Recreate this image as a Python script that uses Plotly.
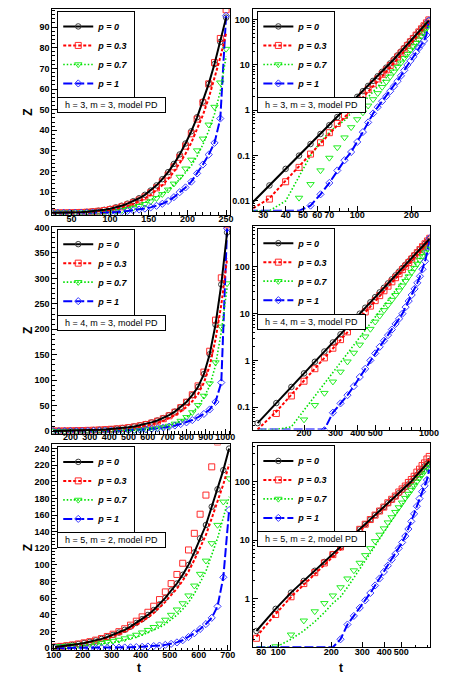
import numpy as np
import plotly.graph_objects as go

W, H = 451, 678
FONT = "Liberation Sans"

# ---------------- text ----------------
series_names = ["p = 0", "p = 0.3", "p = 0.7", "p = 1"]
panel_notes = ["h = 3, m = 3, model PD", "h = 4, m = 3, model PD", "h = 5, m = 2, model PD"]

# ---------------- row 1 : h = 3, m = 3 (linear and log panels) ----------------
t_r1 = [25, 32.5, 40, 47.5, 55, 62.5, 70, 77.5, 85, 92.5, 100, 107.5, 115, 122.5, 130, 137.5,
        145, 152.5, 160, 167.5, 175, 182.5, 190, 197.5, 205, 212.5, 220, 227.5, 235, 242.5, 250]
z_p0_r1 = [0.0077, 0.022, 0.051, 0.10, 0.18, 0.30, 0.47, 0.71, 1.03, 1.45, 1.98, 2.64, 3.45, 4.45, 5.64, 7.06,
           8.73, 10.8, 13.3, 16.3, 19.7, 23.7, 28.3, 33.6, 39.5, 46.3, 53.9, 62.5, 72.1, 82.8, 94.6]
z_p03_model_r1 = [0.0039, 0.0114, 0.028, 0.057, 0.108, 0.186, 0.30, 0.47, 0.70, 1.01, 1.43, 1.93, 2.59, 3.38, 4.34, 5.51,
                  6.90, 8.64, 10.8, 13.4, 16.4, 19.9, 24.1, 28.6, 34.0, 40.3, 47.4, 55.6, 64.9, 75.3, 87.0]
z_p03_sim_r1 = [0.0035, 0.011, 0.0265, 0.055, 0.108, 0.192, 0.32, 0.51, 0.77, 1.13, 1.58, 2.16, 2.90, 3.83, 4.91, 6.21,
                7.77, 9.72, 12.1, 15.0, 18.3, 22.3, 26.9, 32.3, 38.3, 45.4, 53.4, 62.5, 72.8, 84.5, 98.4]
z_p07_model_r1 = [0.0005, 0.002, 0.010, 0.034, 0.10, 0.20, 0.33, 0.46, 0.60, 0.87, 1.15, 1.51, 1.95, 2.57, 3.31, 4.17,
                  5.13, 6.31, 7.76, 9.33, 11.2, 13.5, 16.2, 19.5, 22.9, 27.5, 33.1, 39.8, 47.9, 58.9, 75.9]
z_p07_sim_r1 = [0.0008, 0.002, 0.005, 0.0117, 0.0234, 0.047, 0.089, 0.151, 0.25, 0.42, 0.63, 0.89, 1.26, 1.74, 2.37, 3.24,
                4.22, 5.50, 7.08, 9.02, 11.2, 14.1, 17.4, 21.4, 25.7, 30.2, 35.9, 42.7, 51.3, 63.1, 79.4]
z_p1_r1 = [0.0001, 0.0001, 0.0003, 0.002, 0.0079, 0.014, 0.025, 0.047, 0.079, 0.12, 0.20, 0.33, 0.54, 0.85, 1.17, 1.58,
           2.04, 2.63, 3.39, 4.37, 5.75, 7.59, 10.0, 12.3, 15.1, 19.1, 23.4, 28.2, 33.9, 45.7, 95.5]

# ---------------- row 2 : h = 4, m = 3 ----------------
t_r2 = [110, 140, 170, 200, 230, 260, 290, 320, 350, 380, 410, 440, 470, 500, 530, 560,
        590, 620, 650, 680, 710, 740, 770, 800, 830, 860, 890, 920, 950, 980, 1010]
# linear panel
z_p0_r2lin = [0.58, 0.70, 0.86, 1.05, 1.28, 1.56, 1.91, 2.33, 2.85, 3.48, 4.26, 5.20, 6.35, 7.76, 9.48, 11.6,
              14.2, 17.3, 21.1, 25.8, 31.6, 38.5, 47.1, 57.5, 70.8, 87.1, 112, 151, 209, 288, 390]
z_p03_model_r2lin = [0.44, 0.53, 0.65, 0.79, 0.96, 1.17, 1.43, 1.75, 2.14, 2.61, 3.20, 3.90, 4.76, 5.82, 7.20, 8.93,
                     11.1, 13.7, 16.7, 20.6, 25.6, 31.2, 38.6, 47.7, 58.8, 73.2, 95.2, 128, 180, 248, 339]
z_p03_sim_r2lin = [0.52, 0.63, 0.77, 0.95, 1.15, 1.40, 1.72, 2.10, 2.57, 3.13, 3.83, 4.68, 5.72, 7.0, 8.6, 10.6,
                   13.1, 16.1, 19.8, 24.5, 30.3, 37.3, 46.2, 57.0, 71.5, 89.0, 116, 157, 218, 301, 405]
z_p07_model_r2lin = [0.033, 0.045, 0.059, 0.079, 0.11, 0.14, 0.19, 0.25, 0.34, 0.46, 0.60, 0.81, 1.07, 1.45, 1.95, 2.57,
                     3.47, 4.57, 6.17, 8.32, 11.0, 15.1, 20.4, 27.5, 36.3, 49.0, 66.1, 89.1, 129, 195, 282]
z_p07_sim_r2lin = [0.028, 0.038, 0.050, 0.067, 0.094, 0.12, 0.16, 0.21, 0.29, 0.39, 0.51, 0.69, 0.91, 1.23, 1.70, 2.26,
                   3.12, 4.16, 5.68, 7.82, 10.5, 14.6, 20.2, 27.5, 37.0, 51.0, 69.4, 93.6, 135, 205, 290]
z_p1_r2lin = [0.074, 0.093, 0.12, 0.15, 0.19, 0.25, 0.32, 0.40, 0.51, 0.65, 0.83, 1.05, 1.35, 1.70, 2.19, 2.75,
              3.55, 4.47, 5.75, 7.24, 8.91, 11.2, 14.1, 17.4, 21.9, 27.5, 33.9, 42.7, 57.5, 95.5, 398]
# log panel
z_p0_r2log = [0.0454, 0.122, 0.270, 0.527, 0.934, 1.55, 2.42, 3.61, 5.22, 7.32, 10.0, 13.4, 17.5, 22.6, 28.6, 35.9,
              44.5, 54.5, 66.1, 79.6, 95.1, 112, 132, 155, 180, 208, 240, 275, 313, 356, 403]
z_p03_model_r2log = [0.0295, 0.0805, 0.184, 0.369, 0.663, 1.12, 1.78, 2.69, 3.94, 5.64, 7.8, 10.5, 13.8, 18.1, 23.0, 29.1,
                     36.3, 44.7, 54.9, 66.9, 80.8, 96.3, 115, 136, 159, 185, 216, 249, 285, 326, 371]
z_p03_sim_r2log = [0.025, 0.073, 0.173, 0.358, 0.663, 1.13, 1.82, 2.78, 4.07, 5.78, 8.0, 10.9, 14.5, 19.0, 24.3, 30.9,
                   38.7, 48.0, 58.8, 71.6, 87.5, 104, 124, 147, 173, 202, 235, 272, 313, 360, 411]
z_p07_model_r2log = [0.0044, 0.0145, 0.038, 0.086, 0.174, 0.321, 0.553, 0.905, 1.42, 2.14, 3.13, 4.45, 6.19, 8.43, 11.3, 14.9,
                     19.3, 24.7, 31.3, 39.2, 48.7, 59.8, 73.1, 88.4, 106, 127, 151, 178, 209, 244, 284]
z_p07_sim_r2log = [0.003, 0.009, 0.024, 0.054, 0.11, 0.20, 0.35, 0.57, 0.94, 1.45, 2.16, 3.23, 4.70, 6.70, 8.97, 11.8,
                   15.3, 19.6, 24.9, 31.2, 39.6, 49.8, 62.2, 77.1, 94.8, 116, 141, 170, 204, 244, 284]
z_p1_r2log = [0.0001, 0.0001, 0.0001, 0.0001, 0.0001, 0.032, 0.076, 0.12, 0.18, 0.28, 0.44, 0.66, 1.0, 1.41, 1.95, 2.63,
              3.47, 4.57, 6.03, 7.76, 10.0, 13.8, 18.6, 25.1, 33.9, 45.7, 63.1, 89.1, 132, 214, 417]

# ---------------- row 3 : h = 5, m = 2 ----------------
t_r3lin = [105, 125, 145, 165, 185, 205, 225, 245, 265, 285, 305, 325, 345, 365, 385, 405,
           425, 445, 465, 485, 505, 525, 545, 565, 585, 605, 625, 645, 665, 685, 705]
z_p0_r3lin = [1.26, 1.95, 2.75, 3.72, 4.79, 6.03, 7.41, 9.12, 11.0, 13.2, 15.8, 18.6, 21.9, 25.7, 30.2, 34.7,
              39.8, 45.7, 52.5, 60.3, 69.2, 77.6, 88.1, 100, 115, 132, 148, 170, 191, 214, 240]
z_p03_model_r3lin = [1.16, 1.79, 2.53, 3.42, 4.41, 5.55, 6.82, 8.39, 10.1, 12.1, 14.5, 17.1, 20.1, 23.6, 27.8, 31.9,
                     36.6, 42.0, 48.3, 55.5, 63.7, 71.4, 81.1, 92.0, 106, 121, 136, 156, 176, 197, 221]
z_p03_sim_r3lin = [1.26, 1.95, 2.78, 3.76, 4.89, 6.21, 7.63, 9.48, 11.4, 13.9, 16.6, 19.7, 23.2, 27.5, 32.3, 37.5,
                   43.0, 50.3, 58.3, 67.5, 77.5, 88.5, 102, 118, 138, 161, 184, 218, 248, 282, 322]
z_p07_model_r3lin = [1.49, 1.75, 2.01, 2.36, 2.71, 3.18, 3.66, 4.30, 4.94, 5.79, 6.81, 7.95, 9.43, 11.1, 13.1, 15.6,
                     18.4, 21.3, 24.8, 28.8, 34.2, 39.7, 46.7, 54.9, 65.3, 78.4, 92.4, 112, 132, 157, 182]
z_p07_sim_r3lin = [1.86, 2.19, 2.51, 2.95, 3.39, 3.98, 4.57, 5.37, 6.17, 7.24, 8.51, 9.77, 11.5, 13.5, 15.8, 18.6,
                   21.6, 25.1, 29.2, 33.9, 39.8, 46.2, 53.7, 63.1, 75.0, 89.1, 105, 126, 148, 176, 204]
z_p1_r3lin = [0.03, 0.04, 0.05, 0.063, 0.079, 0.1, 0.126, 0.158, 0.21, 0.28, 0.38, 0.5, 0.66, 0.85, 1.10, 1.41,
              1.82, 2.34, 2.95, 3.80, 5.01, 6.76, 9.33, 13.2, 17.8, 22.9, 28.8, 36.3, 50.1, 85.1, 166]

t_r3log = [75, 96.5, 118, 139.5, 161, 182.5, 204, 225.5, 247, 268.5, 290, 311.5, 333, 354.5, 376, 397.5,
           419, 440.5, 462, 483.5, 505, 526.5, 548, 569.5, 591, 612.5, 634, 655.5, 677, 698.5, 720]
z_p0_r3log = [0.277, 0.664, 1.26, 2.00, 2.98, 4.23, 5.76, 7.62, 9.81, 12.4, 15.3, 18.7, 22.5, 26.8, 31.5, 36.8,
              42.7, 49.0, 55.8, 63.5, 71.6, 80.4, 89.9, 101, 115, 130, 146, 164, 183, 204, 226]
z_p03_model_r3log = [0.222, 0.544, 1.06, 1.72, 2.62, 3.81, 5.24, 7.01, 9.12, 11.7, 14.5, 17.8, 21.6, 25.7, 30.6, 35.7,
                     41.8, 48.0, 55.2, 62.9, 71.6, 80.4, 90.8, 102, 117, 133, 150, 169, 190, 212, 237]
z_p03_sim_r3log = [0.208, 0.531, 1.07, 1.80, 2.77, 4.06, 5.64, 7.62, 9.81, 12.4, 15.3, 18.7, 22.5, 26.8, 31.5, 36.8,
                   43.6, 50.0, 56.9, 66.7, 75.2, 84.4, 97.1, 109, 124, 146, 164, 189, 210, 245, 271]
z_p07_model_r3log = [0.032, 0.138, 0.2, 0.28, 0.40, 0.575, 0.83, 1.07, 1.55, 2.24, 3.16, 4.37, 5.89, 7.94, 10.5, 13.5,
                     17.4, 21.9, 27.5, 33.9, 41.7, 50.1, 60.3, 71.6, 85.1, 100, 115, 132, 151, 172, 193]
z_p07_sim_r3log = [0.08, 0.151, 0.24, 0.417, 0.60, 0.83, 1.12, 1.55, 2.19, 3.02, 4.07, 5.5, 7.24, 9.55, 12.3, 15.8,
                   20.0, 24.5, 30.2, 36.3, 43.7, 52.5, 61.7, 72.4, 85.1, 100, 115, 132, 151, 174, 195]
z_p1_r3log = [0.001, 0.001, 0.001, 0.001, 0.001, 0.001, 0.001, 0.20, 0.358, 0.503, 0.69, 0.93, 1.24, 1.67, 2.20, 2.85,
              3.65, 4.62, 5.78, 7.24, 9.12, 11.7, 15.5, 20.9, 28.2, 38.0, 51.3, 67.6, 85.1, 107, 162]

# ---------------- tick values ----------------
logx_ticks_r1 = [30, 40, 50, 60, 70, 100, 200]
logx_minor_r1 = [80, 90]
logx_ticks_r2 = [200, 300, 400, 500, 1000]
logx_minor_r2 = [600, 700, 800, 900]
logx_ticks_r3 = [80, 100, 200, 300, 400, 500]
logx_minor_r3 = [90, 600, 700]
logy_ticks_r1 = [0.01, 0.1, 1, 10, 100]
logy_ticks_r2 = [0.1, 1, 10, 100]
logy_ticks_r3 = [1, 10, 100]

# ---------------- panels ----------------
panels = [
    dict(t=t_r1, model=[z_p0_r1, z_p03_model_r1, z_p07_model_r1, z_p1_r1],
         sim=[z_p0_r1, z_p03_sim_r1, z_p07_sim_r1, z_p1_r1], log=False,
         box=(48, 232, 5, 213), xr=[25.4, 255.4], yr=[-0.96, 98.8],
         xd=(50, 10), yd=(10, 2), note=panel_notes[0], so=-5),
    dict(t=t_r1, model=[z_p0_r1, z_p03_model_r1, z_p07_model_r1, z_p1_r1],
         sim=[z_p0_r1, z_p03_sim_r1, z_p07_sim_r1, z_p1_r1], log=True,
         box=(255, 438.5, 5, 209), xr=[1.418, 2.404], yr=[-2.218, 2.234],
         xt=(logx_ticks_r1, logx_minor_r1), yt=logy_ticks_r1, note=panel_notes[0], so=-5),
    dict(t=t_r2, model=[z_p0_r2lin, z_p03_model_r2lin, z_p07_model_r2lin, z_p1_r2lin],
         sim=[z_p0_r2lin, z_p03_sim_r2lin, z_p07_sim_r2lin, z_p1_r2lin], log=False,
         box=(48, 232, 225, 434), xr=[106.5, 1026.5], yr=[-4.5, 401.4],
         xd=(100, 20), yd=(50, 10), note=panel_notes[1], so=-5),
    dict(t=t_r2, model=[z_p0_r2log, z_p03_model_r2log, z_p07_model_r2log, z_p1_r2log],
         sim=[z_p0_r2log, z_p03_sim_r2log, z_p07_sim_r2log, z_p1_r2log], log=True,
         box=(255, 438.3, 224, 430), xr=[2.013, 3.004], yr=[-1.481, 2.883],
         xt=(logx_ticks_r2, logx_minor_r2), yt=logy_ticks_r2, note=panel_notes[1], so=-5),
    dict(t=t_r3lin, model=[z_p0_r3lin, z_p03_model_r3lin, z_p07_model_r3lin, z_p1_r3lin],
         sim=[z_p0_r3lin, z_p03_sim_r3lin, z_p07_sim_r3lin, z_p1_r3lin], log=False,
         box=(48, 232, 445, 653), xr=[95.7, 709], yr=[-2.7, 245],
         xd=(100, 20), yd=(20, 4), note=panel_notes[2], so=-4),
    dict(t=t_r3log, model=[z_p0_r3log, z_p03_model_r3log, z_p07_model_r3log, z_p1_r3log],
         sim=[z_p0_r3log, z_p03_sim_r3log, z_p07_sim_r3log, z_p1_r3log], log=True,
         box=(255, 439, 444, 650), xr=[1.853, 2.864], yr=[-0.836, 2.656],
         xt=(logx_ticks_r3, logx_minor_r3), yt=logy_ticks_r3, note=panel_notes[2], so=-4),
]

line_colors = ["#000000", "#ff0000", "#00e000", "#0000ff"]
marker_colors = ["#3a3a3a", "#ff2a2a", "#22ee22", "#3a3aff"]
symbols = ["circle-open", "square-open", "triangle-down-open", "diamond-open"]
msizes = [5.5, 6, 6.5, 5.5]
dashes = ["solid", "3px,2px", "1.5px,2px", "9px,3px"]
lwidths = [2, 2, 1.6, 2]


def fmt(v):
    return ("%g" % v)


fig = go.Figure()
layout = dict(width=W, height=H, margin=dict(l=0, r=0, t=0, b=0),
              paper_bgcolor="white", plot_bgcolor="white", showlegend=True,
              annotations=[])

for i, p in enumerate(panels):
    sfx = "" if i == 0 else str(i + 1)
    xa, ya = "x" + sfx, "y" + sfx
    leg = "legend" + sfx
    l, r, tp, bt = p["box"]
    ymin = 10 ** p["yr"][0] if p["log"] else None

    # simulation markers
    for k in range(4):
        fig.add_trace(go.Scatter(
            x=p["t"], y=p["sim"][k], mode="markers", xaxis=xa, yaxis=ya, showlegend=False,
            marker=dict(symbol=symbols[k], size=msizes[k], color=marker_colors[k],
                        line=dict(width=1, color=marker_colors[k])), hoverinfo="skip"))
    # model lines (ROOT draws values below a log frame along its bottom edge)
    for k in [3, 2, 1, 0]:
        yv = np.array(p["model"][k], dtype=float)
        if p["log"]:
            yv = np.maximum(yv, ymin)
        fig.add_trace(go.Scatter(
            x=p["t"], y=yv, mode="lines", xaxis=xa, yaxis=ya, showlegend=False,
            line=dict(color=line_colors[k], width=lwidths[k], dash=dashes[k]), hoverinfo="skip"))
    # legend entries
    for k in range(4):
        fig.add_trace(go.Scatter(
            x=[None], y=[None], mode="lines+markers", name=series_names[k], xaxis=xa, yaxis=ya,
            legend=leg,
            line=dict(color=line_colors[k], width=lwidths[k], dash=dashes[k]),
            marker=dict(symbol=symbols[k], size=msizes[k], color=marker_colors[k],
                        line=dict(width=1, color=marker_colors[k]))))

    common = dict(showline=True, mirror=True, linecolor="black", linewidth=1,
                  ticks="inside", ticklen=5, tickwidth=1, tickcolor="black",
                  showgrid=False, zeroline=False, tickangle=0,
                  tickfont=dict(family=FONT, size=9, color="black", weight="bold"))
    xdom = [l / W, r / W]
    ydom = [1 - bt / H, 1 - tp / H]
    if p["log"]:
        xt, xm = p["xt"]
        xaxis = dict(type="log", domain=xdom, range=p["xr"], anchor=ya,
                     tickmode="array", tickvals=xt, ticktext=[fmt(v) for v in xt],
                     ticklabelstandoff=p["so"],
                     minor=dict(ticks="inside", ticklen=2.5, tickcolor="black",
                                tickmode="array", tickvals=xm), **common)
        yt = p["yt"]
        ym = []
        for d in yt + [yt[0] / 10]:
            for m in range(2, 10):
                ym.append(d * m)
        yaxis = dict(type="log", domain=ydom, range=p["yr"], anchor=xa,
                     tickmode="array", tickvals=yt, ticktext=[fmt(v) for v in yt],
                     minor=dict(ticks="inside", ticklen=2.5, tickcolor="black",
                                tickmode="array", tickvals=ym), **common)
    else:
        xd, xmd = p["xd"]
        yd, ymd = p["yd"]
        xaxis = dict(domain=xdom, range=p["xr"], anchor=ya, tickmode="linear", tick0=0, dtick=xd,
                     ticklabelstandoff=p["so"],
                     minor=dict(ticks="inside", ticklen=2.5, tickcolor="black", tick0=0, dtick=xmd),
                     **common)
        yaxis = dict(domain=ydom, range=p["yr"], anchor=xa, tickmode="linear", tick0=0, dtick=yd,
                     minor=dict(ticks="inside", ticklen=2.5, tickcolor="black", tick0=0, dtick=ymd),
                     **common)
    layout["xaxis" + sfx] = xaxis
    layout["yaxis" + sfx] = yaxis

    layout[leg] = dict(x=(l + 5) / W, y=1 - (tp + 2) / H, xanchor="left", yanchor="top",
                       bgcolor="white", bordercolor="black", borderwidth=1,
                       font=dict(family=FONT, size=9, color="black", weight="bold", style="italic"),
                       itemwidth=30, tracegroupgap=0)

    layout["annotations"].append(dict(
        text=p["note"], xref="paper", yref="paper", x=(l + 5) / W, y=1 - (tp + 89) / H,
        xanchor="left", yanchor="top", showarrow=False, bgcolor="white",
        bordercolor="black", borderwidth=1, borderpad=2, width=103, align="center",
        font=dict(family=FONT, size=9, color="black")))

# axis titles
for yc in [(5 + 213) / 2, (225 + 434) / 2, (445 + 653) / 2]:
    layout["annotations"].append(dict(
        text="Z", xref="paper", yref="paper", x=22.7 / W, y=1 - yc / H, showarrow=False,
        xanchor="center", yanchor="middle",
        textangle=-90, font=dict(family=FONT, size=12, color="black", weight="bold")))
for xc in [138, 346.7]:
    layout["annotations"].append(dict(
        text="t", xref="paper", yref="paper", x=xc / W, y=1 - 671 / H, showarrow=False,
        xanchor="center", yanchor="middle", borderpad=0,
        font=dict(family=FONT, size=12, color="black", weight="bold")))

fig.update_layout(**layout)
fig.write_html("out.html", config={"displayModeBar": False},
               post_script="document.body.style.margin='0px';document.body.style.overflow='hidden';")
